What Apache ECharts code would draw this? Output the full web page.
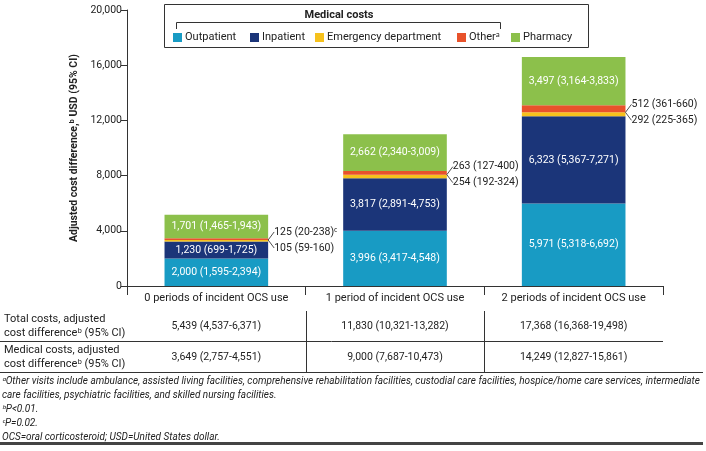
<!DOCTYPE html>
<html><head><meta charset="utf-8">
<script src="https://cdn.jsdelivr.net/npm/echarts@6/dist/echarts.min.js"></script>
<style>html,body{margin:0;padding:0;background:#fff}#c{width:706px;height:451px}</style>
</head><body><div id="c"></div>
<script>
const categories = ['0 periods of incident OCS use', '1 period of incident OCS use', '2 periods of incident OCS use'];
const outpatient = [2000, 3996, 5971];
const outpatientCI = ['1,595-2,394', '3,417-4,548', '5,318-6,692'];
const inpatient = [1230, 3817, 6323];
const inpatientCI = ['699-1,725', '2,891-4,753', '5,367-7,271'];
const emergency = [105, 254, 292];
const emergencyCI = ['59-160', '192-324', '225-365'];
const other = [125, 263, 512];
const otherCI = ['20-238', '127-400', '361-660'];
const otherNote = ['ᶜ', '', ''];
const pharmacy = [1701, 2662, 3497];
const pharmacyCI = ['1,465-1,943', '2,340-3,009', '3,164-3,833'];
const yMin = 0, yMax = 20000, yStep = 4000;
const rowLabels = [['Total costs, adjusted', 'cost differenceᵇ (95% CI)'], ['Medical costs, adjusted', 'cost differenceᵇ (95% CI)']];
const totalCostRow = ['5,439 (4,537-6,371)', '11,830 (10,321-13,282)', '17,368 (16,368-19,498)'];
const medicalCostRow = ['3,649 (2,757-4,551)', '9,000 (7,687-10,473)', '14,249 (12,827-15,861)'];
const footnotes = [
  'ᵃOther visits include ambulance, assisted living facilities, comprehensive rehabilitation facilities, custodial care facilities, hospice/home care services, intermediate',
  'care facilities, psychiatric facilities, and skilled nursing facilities.',
  'ᵇP<0.01.',
  'ᶜP=0.02.',
  'OCS=oral corticosteroid; USD=United States dollar.'
];
const names = ['Outpatient', 'Inpatient', 'Emergency department', 'Otherᵃ', 'Pharmacy'];
const colors = ['#189bc4', '#1b3579', '#f6c11c', '#e8522b', '#8cc04b'];

const FONT = 'Roboto, "Noto Sans", sans-serif';
const fmt = v => v.toLocaleString('en-US');
const chart = echarts.init(document.getElementById('c'), null, {renderer: 'canvas'});

function barSeries(name, data, ci, color, showLabel) {
  return {
    name, type: 'bar', stack: 'total', data, barWidth: '58%',
    itemStyle: {color}, emphasis: {disabled: true},
    label: {
      show: showLabel, position: 'inside', color: '#fff', fontSize: 10.5, fontFamily: FONT,
      formatter: p => fmt(p.value) + ' (' + ci[p.dataIndex] + ')'
    }
  };
}

const annData = categories.map((c, i) => [i, outpatient[i] + inpatient[i] + emergency[i]]);

const option = {
  animation: false,
  textStyle: {fontFamily: FONT},
  grid: {left: 127, right: 43, top: 10, bottom: 165, containLabel: false},
  xAxis: {
    type: 'category', data: categories,
    axisLine: {lineStyle: {color: '#333', width: 1}},
    axisTick: {show: true, length: 9, alignWithLabel: false, interval: 0, lineStyle: {color: '#333'}},
    axisLabel: {color: '#222', fontSize: 11, margin: 7, interval: 0, fontFamily: FONT}
  },
  yAxis: {
    type: 'value', min: yMin, max: yMax, interval: yStep,
    name: 'Adjusted cost difference,ᵇ USD (95% CI)', nameLocation: 'middle', nameGap: 47,
    nameTextStyle: {fontSize: 10.5, fontWeight: 'bold', color: '#222', fontFamily: FONT},
    axisLine: {show: true, lineStyle: {color: '#333'}},
    axisTick: {show: true, length: 6, lineStyle: {color: '#333'}},
    splitLine: {show: false},
    axisLabel: {color: '#222', fontSize: 10.5, margin: 5, formatter: v => fmt(v), fontFamily: FONT}
  },
  legend: names.map((n, i) => ({
    data: [n], left: [173, 250, 315, 457, 511][i], top: 32, itemWidth: 9, itemHeight: 9,
    icon: 'rect', padding: 0, selectedMode: false,
    textStyle: {fontSize: 11, color: '#222', fontFamily: FONT, padding: [0, 0, 0, -2]}
  })),
  series: [
    barSeries(names[0], outpatient, outpatientCI, colors[0], true),
    barSeries(names[1], inpatient, inpatientCI, colors[1], true),
    barSeries(names[2], emergency, emergencyCI, colors[2], false),
    barSeries(names[3], other, otherCI, colors[3], false),
    barSeries(names[4], pharmacy, pharmacyCI, colors[4], true),
    {
      type: 'custom', silent: true, z: 10, data: annData,
      renderItem: (params, api) => {
        const i = api.value(0);
        const pt = api.coord([i, api.value(1)]);
        const band = api.size([1, 0])[0];
        const x0 = pt[0] + band * 0.29;
        const y = pt[1];
        const ln = {stroke: '#222', lineWidth: 0.8};
        return {
          type: 'group', children: [
            {type: 'line', shape: {x1: x0, y1: y, x2: x0 + 6, y2: y - 8}, style: ln},
            {type: 'line', shape: {x1: x0, y1: y, x2: x0 + 6, y2: y + 8}, style: ln},
            {type: 'text', style: {x: x0 + 6, y: y - 8, text: fmt(other[i]) + ' (' + otherCI[i] + ')' + otherNote[i],
              fill: '#222', fontSize: 10.5, fontFamily: FONT, verticalAlign: 'middle', align: 'left'}},
            {type: 'text', style: {x: x0 + 6, y: y + 8, text: fmt(emergency[i]) + ' (' + emergencyCI[i] + ')',
              fill: '#222', fontSize: 10.5, fontFamily: FONT, verticalAlign: 'middle', align: 'left'}}
          ]
        };
      }
    }
  ]
};
chart.setOption(option);

// Legend frame, table and footnotes
const centers = categories.map((c, i) => chart.convertToPixel({xAxisIndex: 0}, i));
const g = [];
g.push({type: 'rect', shape: {x: 164.5, y: 4.5, width: 424, height: 43}, style: {fill: 'none', stroke: '#333', lineWidth: 1}, z: 1});
g.push({type: 'text', style: {x: 339, y: 15, text: 'Medical costs', fontSize: 11, fontWeight: 'bold', fill: '#222', fontFamily: FONT, align: 'center', verticalAlign: 'middle'}});
g.push({type: 'polyline', shape: {points: [[176.5, 29], [176.5, 22.5], [500.5, 22.5], [500.5, 29]]}, style: {fill: 'none', stroke: '#333', lineWidth: 1}});
// table lines
g.push({type: 'line', shape: {x1: 0, y1: 341.5, x2: 663, y2: 341.5}, style: {stroke: '#333', lineWidth: 1}});
g.push({type: 'line', shape: {x1: 0, y1: 372.5, x2: 703, y2: 372.5}, style: {stroke: '#333', lineWidth: 1}});
const bounds = [(centers[0] + centers[1]) / 2, (centers[1] + centers[2]) / 2];
bounds.forEach(b => g.push({type: 'line', shape: {x1: Math.round(b) + 0.5, y1: 311, x2: Math.round(b) + 0.5, y2: 372}, style: {stroke: '#333', lineWidth: 1}}));
const rowY = [326, 357];
rowLabels.forEach((lbl, r) => {
  g.push({type: 'text', style: {x: 4, y: rowY[r] - 7, text: lbl[0], fontSize: 11, fill: '#222', fontFamily: FONT, verticalAlign: 'middle'}});
  g.push({type: 'text', style: {x: 4, y: rowY[r] + 7, text: lbl[1], fontSize: 11, fill: '#222', fontFamily: FONT, verticalAlign: 'middle'}});
});
[totalCostRow, medicalCostRow].forEach((row, r) => {
  row.forEach((t, i) => g.push({type: 'text', style: {x: centers[i], y: rowY[r], text: t, fontSize: 10.5, fill: '#222', fontFamily: FONT, align: 'center', verticalAlign: 'middle'}}));
});
footnotes.forEach((t, k) => g.push({type: 'text', style: {x: 2, y: 381 + k * 14, text: t, fontSize: 10, fontStyle: 'italic', fill: '#222', fontFamily: FONT, verticalAlign: 'middle'}}));
g.push({type: 'rect', shape: {x: 0, y: 442, width: 703, height: 3}, style: {fill: '#444'}});
chart.setOption({graphic: g});
</script></body></html>
